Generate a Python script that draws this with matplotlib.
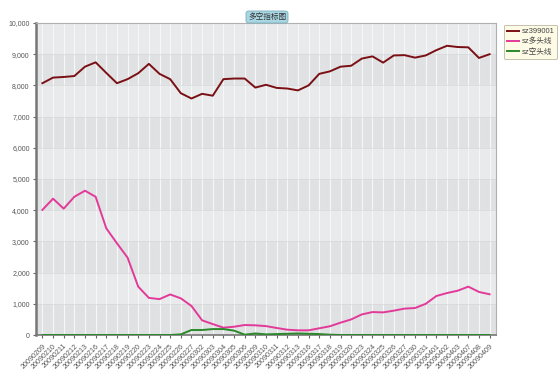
import matplotlib
matplotlib.use("Agg")
import matplotlib.pyplot as plt
from matplotlib.patches import FancyBboxPatch
import numpy as np

plt.rcParams['font.family'] = ['Liberation Sans', 'Noto Sans CJK SC', 'DejaVu Sans']

dates = ["20090209", "20090210", "20090211", "20090212", "20090213", "20090216", "20090217",
         "20090218", "20090219", "20090220", "20090223", "20090224", "20090225", "20090226",
         "20090227", "20090302", "20090303", "20090304", "20090305", "20090306", "20090309",
         "20090310", "20090311", "20090312", "20090313", "20090316", "20090317", "20090318",
         "20090319", "20090320", "20090323", "20090324", "20090325", "20090326", "20090327",
         "20090330", "20090331", "20090401", "20090402", "20090403", "20090407", "20090408",
         "20090409"]

sz399001 = [8070, 8250, 8270, 8300, 8600, 8740, 8400, 8070, 8200, 8390, 8690, 8370, 8200, 7750,
            7580, 7730, 7670, 8200, 8220, 8220, 7930, 8020, 7920, 7900, 7840, 8000, 8370, 8450,
            8600, 8630, 8860, 8930, 8730, 8960, 8970, 8890, 8960, 9130, 9270, 9230, 9220, 8880,
            9000]

duotou = [4010, 4370, 4050, 4430, 4625, 4430, 3420, 2940, 2480, 1550, 1190, 1150, 1300, 1175,
          930, 470, 350, 235, 265, 320, 310, 285, 225, 170, 150, 150, 215, 280, 395, 500, 660,
          735, 725, 780, 845, 865, 1000, 1250, 1345, 1420, 1550, 1380, 1305]

kongtou = [0, 0, 0, 0, 0, 0, 0, 0, 0, 0, 0, 0, 0, 20, 160, 160, 190, 190, 140, 10, 50, 20, 30,
           40, 50, 40, 30, 10, 0, 0, 0, 0, 0, 0, 0, 0, 0, 0, 0, 0, 0, 0, 0]

series_names = ["sz399001", "sz多头线", "sz空头线"]
series_colors = ["#7a0f14", "#e23a98", "#2a8a2a"]
title = "多空指标图"

fig = plt.figure(figsize=(5.6, 3.87), dpi=100)
fig.patch.set_facecolor("white")
W, H = 560, 387
left, right, top, bottom = 36, 496, 23, 335
ax = fig.add_axes([left / W, 1 - bottom / H, (right - left) / W, (bottom - top) / H])

x = np.arange(len(dates))
ax.set_xlim(-0.6, len(dates) - 0.4)
ax.set_ylim(0, 10000)

# alternating bands
for k in range(10):
    ax.axhspan(k * 1000, (k + 1) * 1000, color="#dfe1e3" if k % 2 == 0 else "#e8eaec",
               zorder=0, lw=0)
for xi in x:
    ax.axvline(xi, color="#f6f7f8", lw=0.8, zorder=1)
for k in range(1, 10):
    ax.axhline(k * 1000, color="#d6d8da", lw=0.5, zorder=1)

lines = []
for vals, c in zip([sz399001, duotou, kongtou], series_colors):
    ln, = ax.plot(x, vals, color=c, lw=1.4, zorder=3, solid_joinstyle="round")
    lines.append(ln)

ax.set_xticks(x)
ax.set_xticklabels(dates, rotation=45, ha="right", rotation_mode="anchor",
                   fontsize=5.1, color="#555555")
ax.set_yticks(np.arange(0, 10001, 1000))
ax.set_yticklabels([f"{v:,}" for v in range(0, 10001, 1000)], fontsize=5, color="#555555")
ax.tick_params(axis="both", length=2.5, width=0.8, color="#666666", pad=2)
ax.tick_params(axis="x", pad=3)

for s in ["top", "right"]:
    ax.spines[s].set_color("#b0b0b0")
    ax.spines[s].set_linewidth(0.8)
ax.spines["left"].set_color("#777777")
ax.spines["left"].set_linewidth(1.8)
ax.spines["bottom"].set_color("#777777")
ax.spines["bottom"].set_linewidth(1.2)

# title tab
tx0, tx1, ty0, ty1 = 246, 288, 11, 23
tab = FancyBboxPatch((tx0 / W, 1 - ty1 / H), (tx1 - tx0) / W, (ty1 - ty0) / H,
                     boxstyle="round,pad=0,rounding_size=0.006", transform=fig.transFigure,
                     facecolor="#a9d6e3", edgecolor="#7aaebf", lw=0.6)
fig.patches.append(tab)
fig.text((tx0 + tx1) / 2 / W, 1 - (ty0 + ty1) / 2 / H, title, ha="center", va="center",
         fontsize=5.5, color="#333333", family=['Noto Sans CJK SC', 'DejaVu Sans'])

# legend
leg = ax.legend(lines, series_names, loc="upper left", bbox_to_anchor=(500 / W, 1 - 21 / H),
                bbox_transform=fig.transFigure, fontsize=5.5, frameon=True,
                handlelength=1.6, handletextpad=0.3, borderpad=0.4, labelspacing=0.35,
                fancybox=True)
leg.get_frame().set_facecolor("#fdfbe0")
leg.get_frame().set_edgecolor("#b5b39a")
leg.get_frame().set_linewidth(0.7)
for t in leg.get_texts():
    t.set_color("#444444")
    t.set_family(['Liberation Sans', 'Noto Sans CJK SC'])

fig.savefig("out.png", dpi=100)
